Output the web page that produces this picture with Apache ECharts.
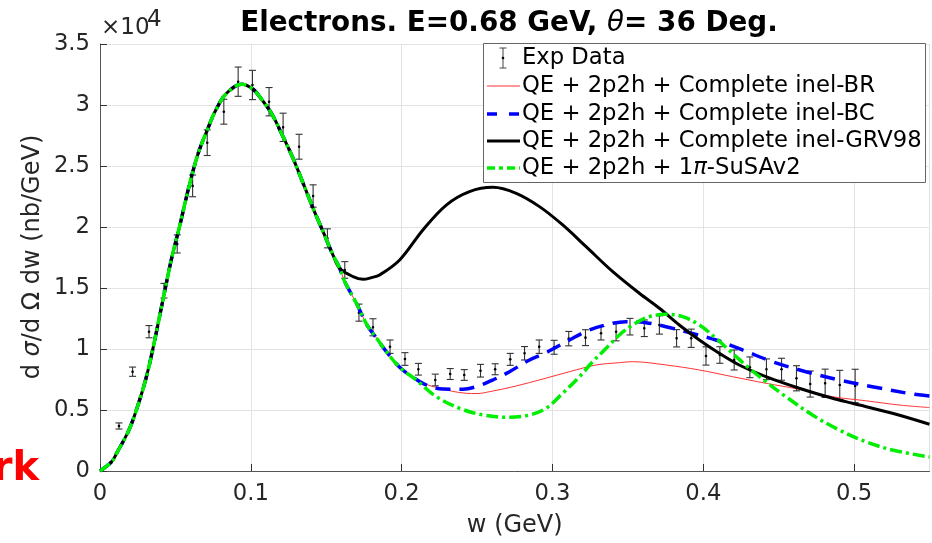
<!DOCTYPE html>
<html>
<head>
<meta charset="utf-8">
<script src="https://cdn.jsdelivr.net/npm/echarts@6/dist/echarts.min.js"></script>
<style>html,body{margin:0;padding:0;background:#fff}#c{width:932px;height:543px}</style>
</head>
<body>
<div id="c"></div>
<script>
// Experimental data
const expW = [0.0126,0.0216,0.0325,0.0424,0.0512,0.0614,0.0711,0.0821,0.0916,0.1011,0.1121,0.1214,0.132,0.1413,0.1508,0.1623,0.1717,0.181,0.1923,0.2022,0.2111,0.2223,0.2322,0.2415,0.2523,0.262,0.272,0.2815,0.2912,0.3011,0.3108,0.3219,0.3322,0.3422,0.3514,0.3609,0.3709,0.3823,0.392,0.4018,0.411,0.4205,0.4309,0.4419,0.4519,0.4618,0.4709,0.4808,0.4905,0.5007];
const expY = [3690,8140,11420,14780,18610,23370,26910,29450,31910,31640,30270,28170,26580,22540,19070,16480,12980,11780,10190,9180,8340,7460,7950,7870,8220,8340,9150,9650,10190,10140,10850,10930,11290,11420,11830,11700,11970,10880,10880,9430,9510,9100,8500,8340,8340,7600,7130,7190,7050,6970];
const expErr = [250,380,500,600,740,890,1050,1020,1200,1200,1160,1160,1020,915,780,680,700,700,550,520,480,480,450,440,520,450,490,550,550,570,590,650,550,750,680,680,750,710,750,750,680,820,850,850,900,1030,1070,1160,1200,1370];

// QE + 2p2h peak shared by all curves
const sharedW = [0,0.0077,0.011,0.0192,0.025,0.0302,0.0342,0.0424,0.0475,0.053,0.0587,0.0651,0.0711,0.0768,0.0839,0.094,0.1015,0.1071,0.1137,0.1203,0.128,0.1347,0.1413,0.1479,0.1545,0.1589];
const sharedY = [0,760,1450,3360,5330,7460,9510,14430,17440,20160,23170,26040,27950,29590,30960,31700,31290,30470,29320,27680,25630,23580,21530,19620,17700,16620];
// descent shared by BR, BC and SuSAv2
const lowW = [0.1623,0.17,0.1777,0.1843,0.1899,0.1987];
const lowY = [15520,13750,11830,10740,9780,8500];
// tails
const brW = [0.2075,0.2163,0.223,0.233,0.2428,0.25,0.2583,0.276,0.2936,0.3113,0.329,0.3444,0.3532,0.3753,0.3974,0.4194,0.4415,0.4636,0.4857,0.5077,0.5298,0.55];
const brY = [7680,7100,6860,6550,6370,6350,6500,6970,7540,8140,8690,8880,8960,8690,8280,7730,7190,6700,6090,5760,5410,5200];
const bcW = [0.2075,0.2163,0.2273,0.2406,0.2494,0.2605,0.2715,0.2848,0.2958,0.3113,0.3245,0.34,0.3488,0.362,0.3753,0.3907,0.4084,0.426,0.4459,0.468,0.4901,0.5121,0.5386,0.55];
const bcY = [7680,7050,6720,6700,6910,7460,8140,9100,9700,10740,11560,12110,12240,12160,11830,11340,10740,9920,8960,8140,7460,6910,6310,6150];
const grvW = [0.1678,0.1744,0.18,0.1854,0.1987,0.2141,0.2296,0.245,0.2605,0.276,0.2914,0.3068,0.3223,0.34,0.3576,0.3709,0.3841,0.3974,0.4106,0.4238,0.4415,0.4636,0.4857,0.4989,0.5254,0.55];
const grvY = [15930,15710,15850,16070,17300,19760,21800,22900,23250,22760,21670,20170,18390,16340,14570,13340,11970,10740,9650,8690,7730,6780,5960,5550,4730,3830];
const susaW = [0.2097,0.223,0.2384,0.2539,0.2715,0.2848,0.2958,0.3068,0.3179,0.3267,0.3356,0.3444,0.3532,0.3642,0.3753,0.3863,0.3974,0.4084,0.4194,0.4305,0.4415,0.4548,0.4724,0.4901,0.5077,0.5254,0.55];
const susaY = [7460,6090,5140,4590,4400,4590,5140,6370,7730,8960,10060,11150,11970,12650,12840,12650,11970,10880,9650,8420,7320,6090,4590,3360,2400,1720,1150];

const yTicks = ['0','0.5','1','1.5','2','2.5','3','3.5'];
const xTicks = ['0','0.1','0.2','0.3','0.4','0.5'];

const pairs = (ws, ys) => ws.map((w, i) => [w, ys[i]]);
const brData = pairs(sharedW, sharedY).concat(pairs(lowW, lowY), pairs(brW, brY));
const bcData = pairs(sharedW, sharedY).concat(pairs(lowW, lowY), pairs(bcW, bcY));
const grvData = pairs(sharedW, sharedY).concat(pairs(grvW, grvY));
const susaData = pairs(sharedW, sharedY).concat(pairs(lowW, lowY), pairs(susaW, susaY));
const expData = expW.map((w, i) => [w, expY[i], expErr[i]]);

const FONT = 'DejaVu Sans';
const TXT = '#262626';
const chart = echarts.init(document.getElementById('c'), null, {renderer: 'canvas'});

const legendY = [58, 86, 114, 141, 168];
const legendNames = ['Exp Data', 'QE + 2p2h + Complete inel-BR', 'QE + 2p2h + Complete inel-BC', 'QE + 2p2h + Complete inel-GRV98', 'QE + 2p2h + 1{i|π}-SuSAv2'];
const legendGraphics = [
  {type: 'rect', shape: {x: 483.5, y: 43.5, width: 442, height: 139}, style: {fill: '#fff', stroke: '#666', lineWidth: 1}, z: 100},
  {type: 'line', shape: {x1: 503, y1: legendY[0] - 10, x2: 503, y2: legendY[0] + 10}, style: {stroke: '#444', lineWidth: 1}, z: 101},
  {type: 'line', shape: {x1: 499.5, y1: legendY[0] - 10, x2: 506.5, y2: legendY[0] - 10}, style: {stroke: '#444', lineWidth: 1}, z: 101},
  {type: 'line', shape: {x1: 499.5, y1: legendY[0] + 10, x2: 506.5, y2: legendY[0] + 10}, style: {stroke: '#444', lineWidth: 1}, z: 101},
  {type: 'circle', shape: {cx: 503, cy: legendY[0], r: 1.3}, style: {fill: '#000'}, z: 101},
  {type: 'line', shape: {x1: 487, y1: legendY[1], x2: 520, y2: legendY[1]}, style: {stroke: '#ff3333', lineWidth: 1}, z: 101},
  {type: 'line', shape: {x1: 487, y1: legendY[2], x2: 520, y2: legendY[2]}, style: {stroke: '#0000ff', lineWidth: 3.5, lineDash: [10, 12]}, z: 101},
  {type: 'line', shape: {x1: 487, y1: legendY[3], x2: 520, y2: legendY[3]}, style: {stroke: '#000', lineWidth: 3}, z: 101},
  {type: 'line', shape: {x1: 487, y1: legendY[4], x2: 520, y2: legendY[4]}, style: {stroke: '#00ee00', lineWidth: 3.5, lineDash: [8, 4, 4, 4]}, z: 101}
];
legendNames.forEach((n, i) => {
  legendGraphics.push({
    type: 'text', x: 522, y: legendY[i], z: 102,
    style: {text: n, font: '22.7px "' + FONT + '"', fill: '#000', verticalAlign: 'middle',
      rich: {i: {fontStyle: 'italic', fontSize: 22.7, fontFamily: FONT, fill: '#000'}}}
  });
});

const option = {
  animation: false,
  backgroundColor: '#fff',
  grid: {left: 100, right: 2.5, top: 44, bottom: 72, containLabel: false},
  title: {
    text: 'Electrons. E=0.68 GeV, {i|θ}= 36 Deg.',
    left: 504, top: 5, textAlign: 'center',
    textStyle: {fontFamily: FONT, fontWeight: 'bold', fontSize: 27.8, color: '#000',
      rich: {i: {fontFamily: FONT, fontWeight: 'normal', fontStyle: 'italic', fontSize: 27.8, color: '#000'}}}
  },
  xAxis: {
    type: 'value', min: 0, max: 0.55, interval: 0.1,
    name: 'w (GeV)', nameLocation: 'middle', nameGap: 43,
    nameTextStyle: {fontFamily: FONT, fontSize: 24, color: TXT},
    axisLine: {show: true, lineStyle: {color: '#555', width: 1}},
    axisTick: {show: true, inside: true, length: 7, lineStyle: {color: '#333'}},
    axisLabel: {fontFamily: FONT, fontSize: 22.7, color: TXT, margin: 12, showMaxLabel: false,
      formatter: v => { const i = Math.round(v * 10); return Math.abs(v * 10 - i) < 1e-6 && i < xTicks.length ? xTicks[i] : ''; }},
    splitLine: {show: true, lineStyle: {color: '#e3e3e3', width: 1}}
  },
  yAxis: {
    type: 'value', min: 0, max: 35000, interval: 5000,
    axisLine: {show: true, lineStyle: {color: '#555', width: 1}},
    axisTick: {show: true, inside: true, length: 7, lineStyle: {color: '#333'}},
    axisLabel: {fontFamily: FONT, fontSize: 22.7, color: TXT, margin: 10, padding: [7, 0, 0, 0],
      formatter: v => yTicks[Math.round(v / 5000)] || ''},
    splitLine: {show: true, lineStyle: {color: '#e3e3e3', width: 1}}
  },
  graphic: [
    {type: 'text', x: 101, y: 17, style: {text: '×10', font: '23px "' + FONT + '"', fill: TXT}},
    {type: 'text', x: 147, y: 9, style: {text: '4', font: '23px "' + FONT + '"', fill: TXT}},
    {type: 'text', x: 33, y: 257, rotation: Math.PI / 2,
      style: {text: 'd {i|σ}/d Ω dw (nb/GeV)', font: '24px "' + FONT + '"', fill: TXT, align: 'center', verticalAlign: 'middle',
        rich: {i: {fontFamily: FONT, fontStyle: 'italic', fontSize: 24, fill: TXT}}}},
    {type: 'text', x: 39, y: 450, style: {text: 'rk', font: 'bold 40px "' + FONT + '"', fill: '#ff0000', align: 'right'}}
  ].concat(legendGraphics),
  series: [
    {
      name: 'Exp Data', type: 'custom', z: 1, data: expData, encode: {x: 0, y: 1},
      renderItem: (params, api) => {
        const w = api.value(0), y = api.value(1), e = api.value(2);
        const p = api.coord([w, y]);
        const lo = api.coord([w, y - e]);
        const hi = api.coord([w, y + e]);
        const hw = 3.5;
        const st = {stroke: '#333', lineWidth: 1.1};
        return {type: 'group', children: [
          {type: 'line', shape: {x1: p[0], y1: lo[1], x2: p[0], y2: hi[1]}, style: st},
          {type: 'line', shape: {x1: p[0] - hw, y1: lo[1], x2: p[0] + hw, y2: lo[1]}, style: st},
          {type: 'line', shape: {x1: p[0] - hw, y1: hi[1], x2: p[0] + hw, y2: hi[1]}, style: st},
          {type: 'circle', shape: {cx: p[0], cy: p[1], r: 1.3}, style: {fill: '#000'}}
        ]};
      }
    },
    {name: 'QE + 2p2h + Complete inel-BR', type: 'line', z: 2, data: brData, showSymbol: false, smooth: 0.35,
      lineStyle: {color: '#ff3333', width: 1}},
    {name: 'QE + 2p2h + Complete inel-BC', type: 'line', z: 3, data: bcData, showSymbol: false, smooth: 0.35,
      lineStyle: {color: '#0000ff', width: 3.5, type: [15, 9]}},
    {name: 'QE + 2p2h + Complete inel-GRV98', type: 'line', z: 4, data: grvData, showSymbol: false, smooth: 0.35,
      lineStyle: {color: '#000000', width: 3}},
    {name: 'QE + 2p2h + 1π-SuSAv2', type: 'line', z: 5, data: susaData, showSymbol: false, smooth: 0.35,
      lineStyle: {color: '#00ee00', width: 3.5, type: [12, 4, 3, 4]}}
  ]
};
chart.setOption(option);
</script>
</body>
</html>
